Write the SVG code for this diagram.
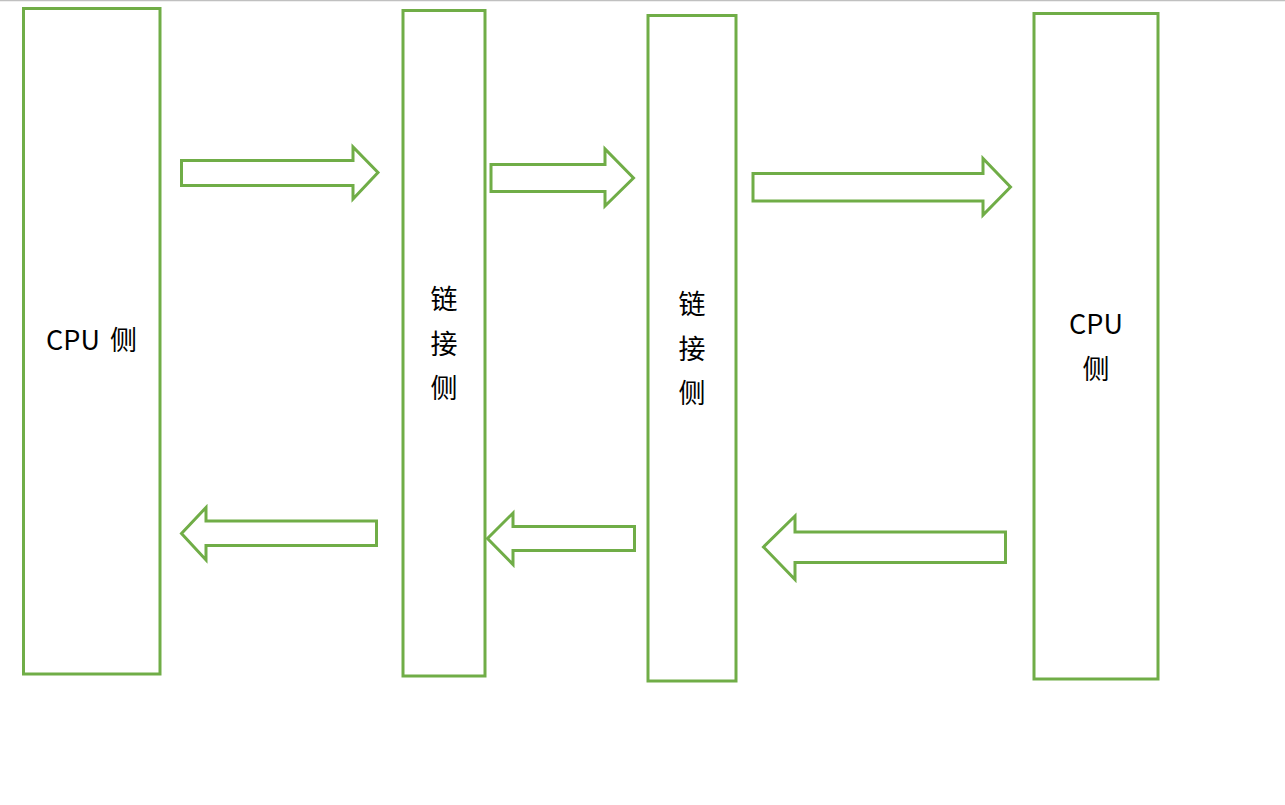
<svg xmlns="http://www.w3.org/2000/svg" width="1285" height="805" viewBox="0 0 1285 805">
<style>
.box{fill:#fff;stroke:#70AD47;stroke-width:3}
.arr{fill:#fff;stroke:#70AD47;stroke-width:3;stroke-linejoin:miter}
.t{font-family:"Noto Sans CJK SC","Liberation Sans",sans-serif;font-size:27px;fill:#000;text-anchor:middle}
</style>
<rect x="0" y="0" width="1285" height="805" fill="#fff"/>
<line x1="0" y1="0.5" x2="1285" y2="0.5" stroke="#c0c0c0" stroke-width="1.5"/>
<g id="node-cpu-left">
<rect class="box" x="23.5" y="8.5" width="136.5" height="665.5"/>
<text class="t" x="91.5" y="350" word-spacing="4">CPU 侧</text>
</g>
<g id="node-link-1">
<rect class="box" x="403" y="10.5" width="82" height="665.5"/>
<text class="t" x="444" y="309">链</text>
<text class="t" x="444" y="354">接</text>
<text class="t" x="444" y="398">侧</text>
</g>
<g id="node-link-2">
<rect class="box" x="648" y="15.5" width="88" height="665.5"/>
<text class="t" x="692" y="314">链</text>
<text class="t" x="692" y="359">接</text>
<text class="t" x="692" y="403">侧</text>
</g>
<g id="node-cpu-right">
<rect class="box" x="1034" y="13.5" width="124" height="665.5"/>
<text class="t" x="1096" y="334">CPU</text>
<text class="t" x="1096" y="379">侧</text>
</g>
<g id="connectors">
<polygon class="arr" points="181.5,160.5 353,160.5 353,147 378,172.5 353,199 353,185.5 181.5,185.5"/>
<polygon class="arr" points="376.5,521 206,521 206,507.5 181.5,533.5 206,560 206,545.5 376.5,545.5"/>
<polygon class="arr" points="491,164.5 605,164.5 605,149 633.5,178 605,206 605,191.5 491,191.5"/>
<polygon class="arr" points="634.5,526.5 513,526.5 513,513 487.5,538.5 513,564.5 513,550.5 634.5,550.5"/>
<polygon class="arr" points="753,173.5 983,173.5 983,158.5 1010.5,187 983,215 983,201 753,201"/>
<polygon class="arr" points="1005.5,532 795,532 795,516 763.5,547 795,579.5 795,562.5 1005.5,562.5"/>
</g>
</svg>
